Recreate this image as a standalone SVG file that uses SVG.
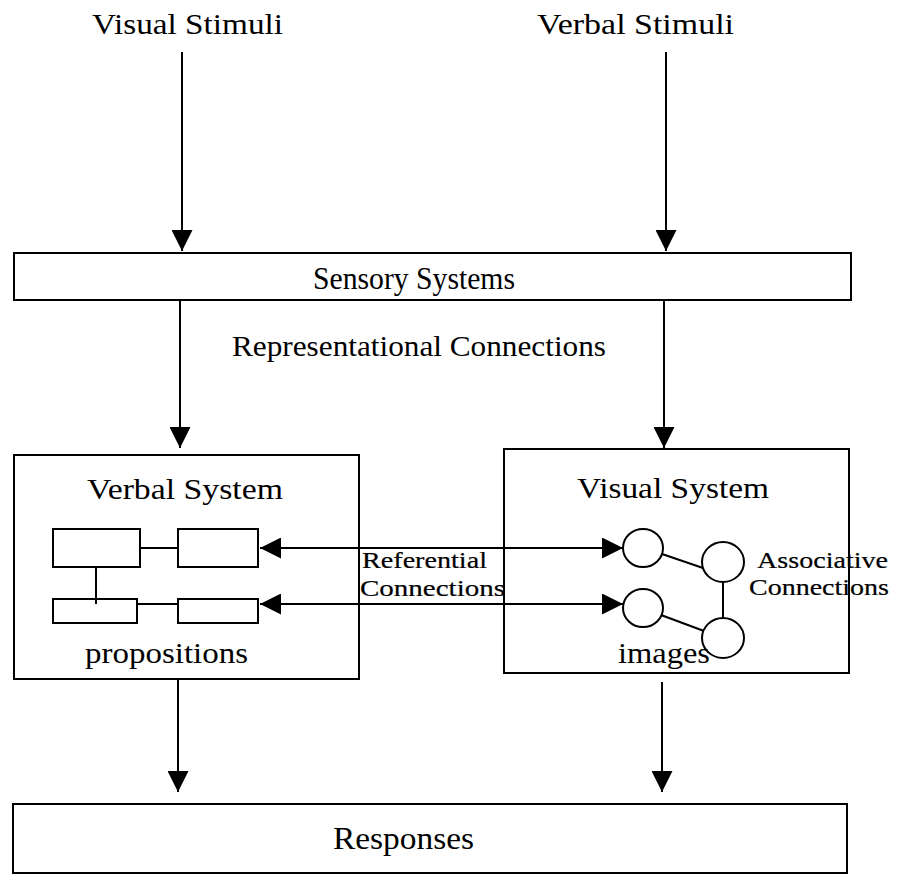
<svg xmlns="http://www.w3.org/2000/svg" width="899" height="877" viewBox="0 0 899 877">
  <style>
    .box { fill: #fff; stroke: #000; stroke-width: 2; }
    .edge { fill: none; stroke: #000; stroke-width: 2; }
    .lbl { font-family: "Liberation Serif", "Times New Roman", serif; font-size: 29px; fill: #000; }
    .tall { font-family: "Liberation Serif", "Times New Roman", serif; font-size: 32px; fill: #000; }
    .small { font-family: "Liberation Serif", "Times New Roman", serif; font-size: 24px; fill: #000; stroke: #000; stroke-width: 0.2; }
  </style>
  <defs>
    <marker id="arrow" viewBox="0 0 10 10" refX="10" refY="5" markerUnits="userSpaceOnUse" markerWidth="21" markerHeight="21" orient="auto">
      <path d="M0,0 L10,5 L0,10 z" fill="#000"/>
    </marker>
    <marker id="arrow-rev" viewBox="0 0 10 10" refX="0" refY="5" markerUnits="userSpaceOnUse" markerWidth="21" markerHeight="21" orient="auto">
      <path d="M10,0 L0,5 L10,10 z" fill="#000"/>
    </marker>
  </defs>

  <rect width="899" height="877" fill="#fff"/>

  <!-- inputs -->
  <g id="visual-stimuli">
    <text class="lbl" x="92" y="34" textLength="191" lengthAdjust="spacingAndGlyphs">Visual Stimuli</text>
  </g>
  <g id="verbal-stimuli">
    <text class="lbl" x="537" y="34" textLength="197" lengthAdjust="spacingAndGlyphs">Verbal Stimuli</text>
  </g>

  <!-- sensory layer -->
  <g id="sensory-systems">
    <rect class="box" x="14" y="253" width="837" height="47"/>
    <text class="tall" x="313" y="289" textLength="202" lengthAdjust="spacingAndGlyphs">Sensory Systems</text>
  </g>

  <g id="representational-label">
    <text class="lbl" x="232" y="356" textLength="374" lengthAdjust="spacingAndGlyphs">Representational Connections</text>
  </g>

  <!-- verbal system with its propositions -->
  <g id="verbal-system">
    <rect class="box" x="14" y="455" width="345" height="224"/>
    <text class="lbl" x="87" y="499" textLength="196" lengthAdjust="spacingAndGlyphs">Verbal System</text>
    <rect class="box" x="53" y="529" width="87" height="38"/>
    <rect class="box" x="178" y="529" width="80" height="38"/>
    <rect class="box" x="53" y="599" width="84" height="24"/>
    <rect class="box" x="178" y="599" width="80" height="24"/>
    <line class="edge" x1="140" y1="548" x2="178" y2="548"/>
    <line class="edge" x1="137" y1="604" x2="178" y2="604"/>
    <line class="edge" x1="96" y1="567" x2="96" y2="604"/>
    <text class="lbl" x="85" y="663" textLength="163" lengthAdjust="spacingAndGlyphs">propositions</text>
  </g>

  <!-- visual system with its images -->
  <g id="visual-system">
    <rect class="box" x="504" y="449" width="345" height="224"/>
    <text class="lbl" x="577" y="498" textLength="192" lengthAdjust="spacingAndGlyphs">Visual System</text>
    <line class="edge" x1="662" y1="554" x2="703" y2="568"/>
    <line class="edge" x1="723" y1="582" x2="723" y2="618"/>
    <line class="edge" x1="661" y1="615" x2="704" y2="631"/>
    <ellipse class="box" cx="643" cy="548" rx="20" ry="19"/>
    <ellipse class="box" cx="723" cy="562" rx="21" ry="20"/>
    <ellipse class="box" cx="643" cy="608" rx="20" ry="19"/>
    <ellipse class="box" cx="723" cy="638" rx="21" ry="20"/>
    <text class="lbl" x="618" y="663" textLength="92" lengthAdjust="spacingAndGlyphs">images</text>
  </g>

  <!-- outputs -->
  <g id="responses">
    <rect class="box" x="13" y="804" width="834" height="69"/>
    <text class="tall" x="333" y="849" textLength="141" lengthAdjust="spacingAndGlyphs">Responses</text>
  </g>

  <!-- connectors -->
  <g id="connectors">
    <line class="edge" x1="182" y1="52" x2="182" y2="251" marker-end="url(#arrow)"/>
    <line class="edge" x1="666" y1="52" x2="666" y2="251" marker-end="url(#arrow)"/>
    <line class="edge" x1="180" y1="300" x2="180" y2="448" marker-end="url(#arrow)"/>
    <line class="edge" x1="664" y1="300" x2="664" y2="448" marker-end="url(#arrow)"/>
    <line class="edge" x1="260" y1="548" x2="623" y2="548" marker-start="url(#arrow-rev)" marker-end="url(#arrow)"/>
    <line class="edge" x1="260" y1="604" x2="623" y2="604" marker-start="url(#arrow-rev)" marker-end="url(#arrow)"/>
    <line class="edge" x1="178" y1="680" x2="178" y2="792" marker-end="url(#arrow)"/>
    <line class="edge" x1="662" y1="682" x2="662" y2="792" marker-end="url(#arrow)"/>
  </g>

  <!-- connector labels -->
  <g id="referential-label">
    <text class="small" x="362" y="568" textLength="125" lengthAdjust="spacingAndGlyphs">Referential</text>
    <text class="small" x="360" y="596" textLength="145" lengthAdjust="spacingAndGlyphs">Connections</text>
  </g>
  <g id="associative-label">
    <text class="small" x="757" y="568" textLength="131" lengthAdjust="spacingAndGlyphs">Associative</text>
    <text class="small" x="749" y="595" textLength="140" lengthAdjust="spacingAndGlyphs">Connections</text>
  </g>
</svg>
